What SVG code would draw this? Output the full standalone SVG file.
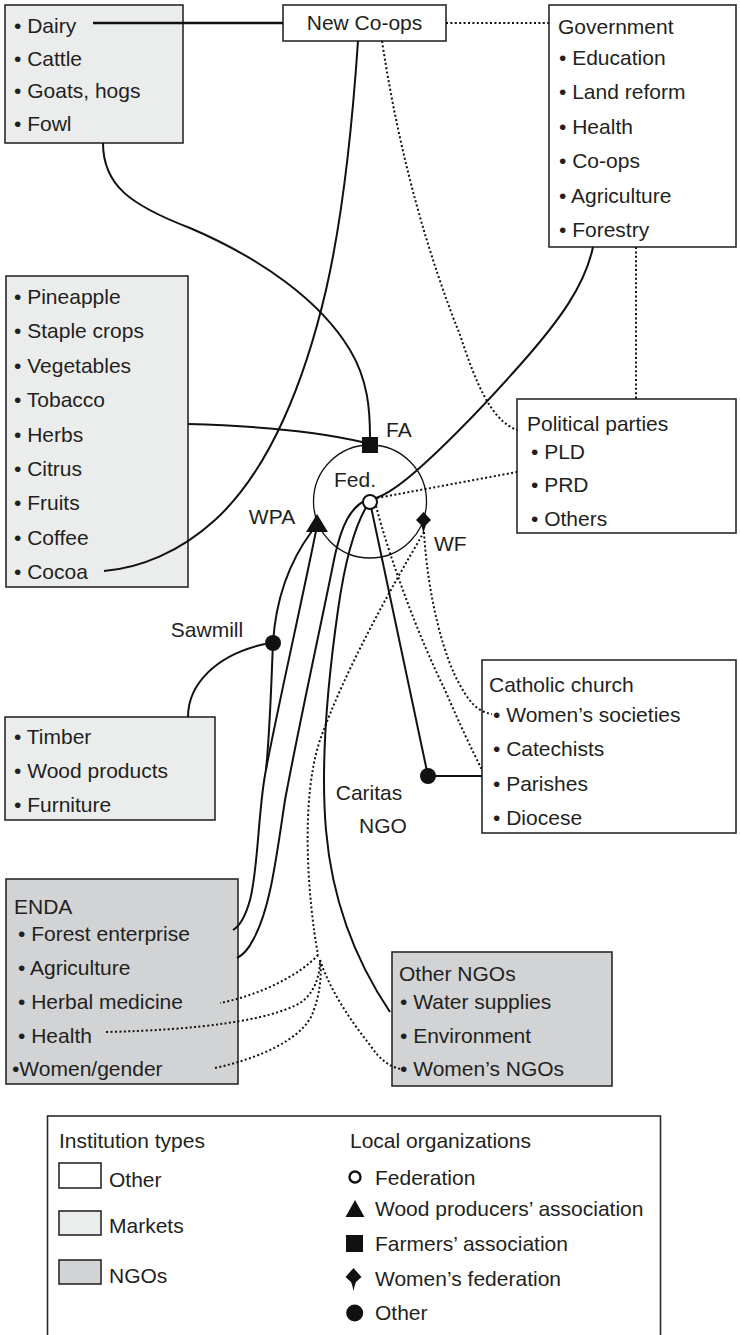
<svg xmlns="http://www.w3.org/2000/svg" width="740" height="1335" viewBox="0 0 740 1335">
<style>
text{font-family:"Liberation Sans",Arial,sans-serif;font-size:21px;fill:#231f20}
.box{stroke:#2a2a2a;stroke-width:1.6}
.other{fill:#ffffff}
.mkt{fill:#ebedec}
.ngo{fill:#d1d3d4}
.ln{fill:none;stroke:#111;stroke-width:2}
.dt{fill:none;stroke:#111;stroke-width:2;stroke-dasharray:2 2.4}
.mid{text-anchor:middle}
</style>
<rect width="740" height="1335" fill="#ffffff"/>

<g id="livestock">
  <rect class="box mkt" x="5" y="5" width="178" height="138"/>
  <text x="14" y="32.5">• Dairy</text>
  <text x="14" y="65.5">• Cattle</text>
  <text x="14" y="98">• Goats, hogs</text>
  <text x="14" y="130.5">• Fowl</text>
</g>

<g id="new-coops">
  <rect class="box other" x="283" y="5" width="163" height="36"/>
  <text class="mid" x="364.5" y="30">New Co-ops</text>
</g>

<g id="government">
  <rect class="box other" x="549" y="5" width="187" height="242"/>
  <text x="558" y="34">Government</text>
  <text x="559" y="65">• Education</text>
  <text x="559" y="99.4">• Land reform</text>
  <text x="559" y="133.8">• Health</text>
  <text x="559" y="168.2">• Co-ops</text>
  <text x="559" y="202.6">• Agriculture</text>
  <text x="559" y="237">• Forestry</text>
</g>

<g id="crops">
  <rect class="box mkt" x="6" y="276" width="182" height="311"/>
  <text x="14" y="304">• Pineapple</text>
  <text x="14" y="338.4">• Staple crops</text>
  <text x="14" y="372.8">• Vegetables</text>
  <text x="14" y="407.2">• Tobacco</text>
  <text x="14" y="441.6">• Herbs</text>
  <text x="14" y="476">• Citrus</text>
  <text x="14" y="510.4">• Fruits</text>
  <text x="14" y="544.8">• Coffee</text>
  <text x="14" y="579.2">• Cocoa</text>
</g>

<g id="political-parties">
  <rect class="box other" x="517" y="399" width="219" height="134"/>
  <text x="527" y="430.5">Political parties</text>
  <text x="531" y="458.5">• PLD</text>
  <text x="531" y="491.5">• PRD</text>
  <text x="531" y="525.5">• Others</text>
</g>

<g id="timber">
  <rect class="box mkt" x="5" y="717" width="210" height="103"/>
  <text x="14" y="743.5">• Timber</text>
  <text x="14" y="777.5">• Wood products</text>
  <text x="14" y="811.5">• Furniture</text>
</g>

<g id="catholic-church">
  <rect class="box other" x="482" y="660" width="254" height="173"/>
  <text x="489" y="691.5">Catholic church</text>
  <text x="493" y="721.5">• Women’s societies</text>
  <text x="493" y="755.5">• Catechists</text>
  <text x="493" y="790.5">• Parishes</text>
  <text x="493" y="824.5">• Diocese</text>
</g>

<g id="enda">
  <rect class="box ngo" x="6" y="879" width="232" height="205"/>
  <text x="14" y="913.5">ENDA</text>
  <text x="18" y="940.5">• Forest enterprise</text>
  <text x="18" y="974.5">• Agriculture</text>
  <text x="18" y="1009">• Herbal medicine</text>
  <text x="18" y="1042.5">• Health</text>
  <text x="12" y="1076">•Women/gender</text>
</g>

<g id="other-ngos">
  <rect class="box ngo" x="392" y="952" width="220" height="134"/>
  <text x="399" y="981">Other NGOs</text>
  <text x="400" y="1009">• Water supplies</text>
  <text x="400" y="1042.5">• Environment</text>
  <text x="400" y="1076">• Women’s NGOs</text>
</g>

<g id="connectors">
  <path class="ln" d="M93,23 L283,23" style="stroke-width:2.6"/>
  <path class="ln" d="M103,143 C103,185 130,205 190,228 C260,258 320,300 350,350 C368,380 370,410 370,437"/>
  <path class="ln" d="M188,424 C260,426 320,432 362,442"/>
  <path class="ln" d="M358,41 C352,130 342,220 326,290 C305,380 270,470 215,520 C180,552 140,568 104,571"/>
  <path class="ln" d="M593,247 C585,285 560,320 520,365 C480,410 440,450 415,472 C400,485 385,495 376,498"/>
  <path class="ln" d="M370,502 L428,776"/>
  <path class="ln" d="M428,776 L482,776"/>
  <path class="ln" d="M188,717 C188,685 215,655 265,644"/>
  <path class="ln" d="M312,531 C292,558 276,595 273,643 C271,690 270,730 266,770"/>
  <path class="ln" d="M316,531 C300,610 275,720 265,775 C258,815 258,870 250,900 C245,918 240,926 233,930"/>
  <path class="ln" d="M366,500 C350,508 342,525 335,555 C322,620 300,720 285,800 C276,860 270,910 253,940 C248,950 243,955 237,958"/>
  <path class="ln" d="M368,504 C355,525 345,560 338,610 C328,680 320,760 326,830 C332,900 355,960 390,1012"/>
  <path class="dt" d="M446,23 L549,23"/>
  <path class="dt" d="M382,41 C400,160 430,260 460,335 C475,380 490,420 517,430"/>
  <path class="dt" d="M636,247 L636,399"/>
  <path class="dt" d="M377,498 L517,472"/>
  <path class="dt" d="M376,506 C390,560 420,640 445,690 C460,725 472,750 482,770"/>
  <path class="dt" d="M424,532 C428,600 445,660 460,685 C468,700 477,712 492,714"/>
  <path class="dt" d="M424,532 C390,590 345,670 320,740 C300,800 308,900 318,955"/>
  <path class="dt" d="M318,955 C300,975 260,995 220,1003"/>
  <path class="dt" d="M106,1032 C200,1030 270,1020 300,1003 C315,993 320,975 320,960"/>
  <path class="dt" d="M215,1068 C260,1058 300,1040 312,1015 C320,995 322,975 320,960"/>
  <path class="dt" d="M320,960 C330,990 350,1020 370,1045 C380,1060 390,1067 401,1069"/>
</g>

<g id="fed-circle">
  <circle cx="370" cy="501.5" r="56.5" fill="none" stroke="#111" stroke-width="1.3"/>
  <text class="mid" x="355" y="487">Fed.</text>
</g>

<g id="fa">
  <rect x="362" y="437" width="16" height="16" fill="#111"/>
  <text x="386" y="437">FA</text>
</g>

<g id="wpa">
  <path d="M317,514 L328,532 L306,532 Z" fill="#111"/>
  <text class="mid" x="272" y="524">WPA</text>
</g>

<g id="wf">
  <path d="M423.5,512 L431,520 L426,525 Q424.3,529 423.5,535 Q422.7,529 421,525 L416,520 Z" fill="#111"/>
  <text x="434" y="551">WF</text>
</g>

<g id="fed">
  <circle cx="370" cy="502" r="7" fill="#ffffff" stroke="#111" stroke-width="2"/>
</g>

<g id="sawmill">
  <circle cx="273" cy="643" r="8" fill="#111"/>
  <text class="mid" x="207" y="637">Sawmill</text>
</g>

<g id="caritas">
  <circle cx="428" cy="776" r="8" fill="#111"/>
  <text class="mid" x="369" y="800">Caritas</text>
  <text class="mid" x="383" y="833">NGO</text>
</g>

<g id="legend">
  <rect class="box other" x="47.5" y="1116" width="613" height="240"/>
  <text x="59" y="1147.5">Institution types</text>
  <rect class="box other" x="59" y="1163" width="42" height="25"/>
  <text x="109" y="1186.5">Other</text>
  <rect class="box mkt" x="59" y="1211" width="42" height="24"/>
  <text x="109" y="1233">Markets</text>
  <rect class="box ngo" x="59" y="1260" width="42" height="24"/>
  <text x="109" y="1282.5">NGOs</text>
  <text x="350" y="1147.5">Local organizations</text>
  <circle cx="355" cy="1177" r="5.5" fill="none" stroke="#111" stroke-width="2.4"/>
  <text x="375" y="1184.5">Federation</text>
  <path d="M355,1200 L364.5,1217 L345.5,1217 Z" fill="#111"/>
  <text x="375" y="1216">Wood producers’ association</text>
  <rect x="346" y="1235" width="17" height="17" fill="#111"/>
  <text x="375" y="1251">Farmers’ association</text>
  <path d="M353.5,1268 L361.5,1277 L356,1282 Q354.3,1286 353.5,1291 Q352.7,1286 351,1282 L345.5,1277 Z" fill="#111"/>
  <text x="375" y="1286">Women’s federation</text>
  <circle cx="354.7" cy="1313" r="8.5" fill="#111"/>
  <text x="375" y="1320">Other</text>
</g>
</svg>
